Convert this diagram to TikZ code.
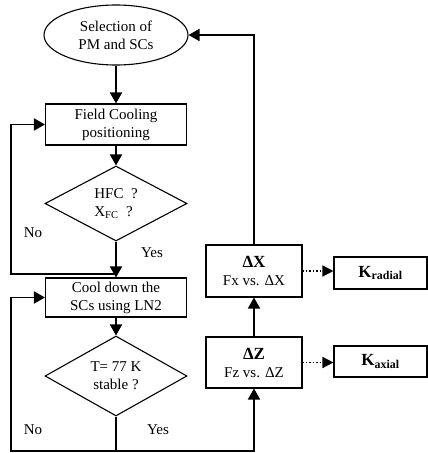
\documentclass[tikz,border=0pt]{standalone}
\usepackage{fontspec}
\setmainfont{Liberation Serif}
\usetikzlibrary{shapes.geometric,arrows.meta}
\begin{document}
\begin{tikzpicture}[x=1pt,y=-1pt,
  txt/.style={font=\fontsize{15}{18}\selectfont},
  box/.style={draw,line width=1.1pt,rectangle,inner sep=0pt,align=center,txt},
  decision/.style={draw,line width=1.1pt,diamond,inner sep=0pt,align=center,txt,minimum width=142pt},
  conn/.style={line width=1.8pt,-{Triangle[length=11pt,width=12pt]}},
  plain/.style={line width=1.8pt},
  dotarrow/.style={line width=1.4pt,dotted,-{Triangle[length=11pt,width=11pt]}},
  lbl/.style={txt,inner sep=0pt}]
\useasboundingbox (0,0) rectangle (428,453);
\node[draw,ellipse,line width=1.1pt,minimum width=144pt,minimum height=60pt,inner sep=0pt,align=center,txt] (sel) at (116,35) {Selection of\\PM and SCs};
\node[box,minimum width=141pt,minimum height=41pt] (fc) at (116,124.5) {Field Cooling\\positioning};
\node[decision,minimum height=75pt,align=left] (hfc) at (116,203.5) {HFC\ \ ?\\X\textsubscript{FC}\ \ ?};
\node[box,minimum width=141pt,minimum height=39pt] (cool) at (116,297.5) {Cool down the\\SCs using LN2};
\node[decision,minimum height=80pt] (temp) at (116,376) {T= 77 K\\stable ?};
\node[box,minimum width=96pt,minimum height=52pt] (dx) at (254,271) {{\fontsize{17}{19}\selectfont\textbf{ΔX}}\\Fx vs. ΔX};
\node[box,minimum width=96pt,minimum height=51pt] (dz) at (254,362.5) {{\fontsize{17}{19}\selectfont\textbf{ΔZ}}\\Fz vs. ΔZ};
\node[box,minimum width=93pt,minimum height=32pt,font=\fontsize{17}{20}\selectfont] (kr) at (380.5,273) {\textbf{K\textsubscript{radial}}};
\node[box,minimum width=93pt,minimum height=31pt,font=\fontsize{17}{20}\selectfont] (ka) at (380.5,361.5) {\textbf{K\textsubscript{axial}}};
\coordinate (j1) at (116,274);
\coordinate (l1) at (11,274);
\coordinate (b1) at (116,451);
\coordinate (bl) at (11,451);
\coordinate (br) at (254,451);
\coordinate (tr) at (254,35);
\draw[conn] (sel.south) -- (fc.north);
\draw[conn] (fc.south) -- (hfc.north);
\draw[conn] (hfc.south) -- (cool.north);
\draw[conn] (j1) -- (l1) |- (fc.west);
\draw[conn] (cool.south) -- (temp.north);
\draw[plain] (temp.south) -- (b1);
\draw[conn] (b1) -- (bl) |- (cool.west);
\draw[conn] (b1) -- (br) -- (dz.south);
\draw[conn] (dz.north) -- (dx.south);
\draw[conn] (dx.north) -- (tr) -- (sel.east);
\draw[dotarrow] (dx.east) -- (kr.west |- dx.east);
\draw[dotarrow] (dz.east) -- (ka.west |- dz.east);
\node[lbl] (no1) at (33,233) {No};
\node[lbl] (yes1) at (152,253) {Yes};
\node[lbl] (no2) at (33,430) {No};
\node[lbl] (yes2) at (158,430) {Yes};
\end{tikzpicture}
\end{document}
